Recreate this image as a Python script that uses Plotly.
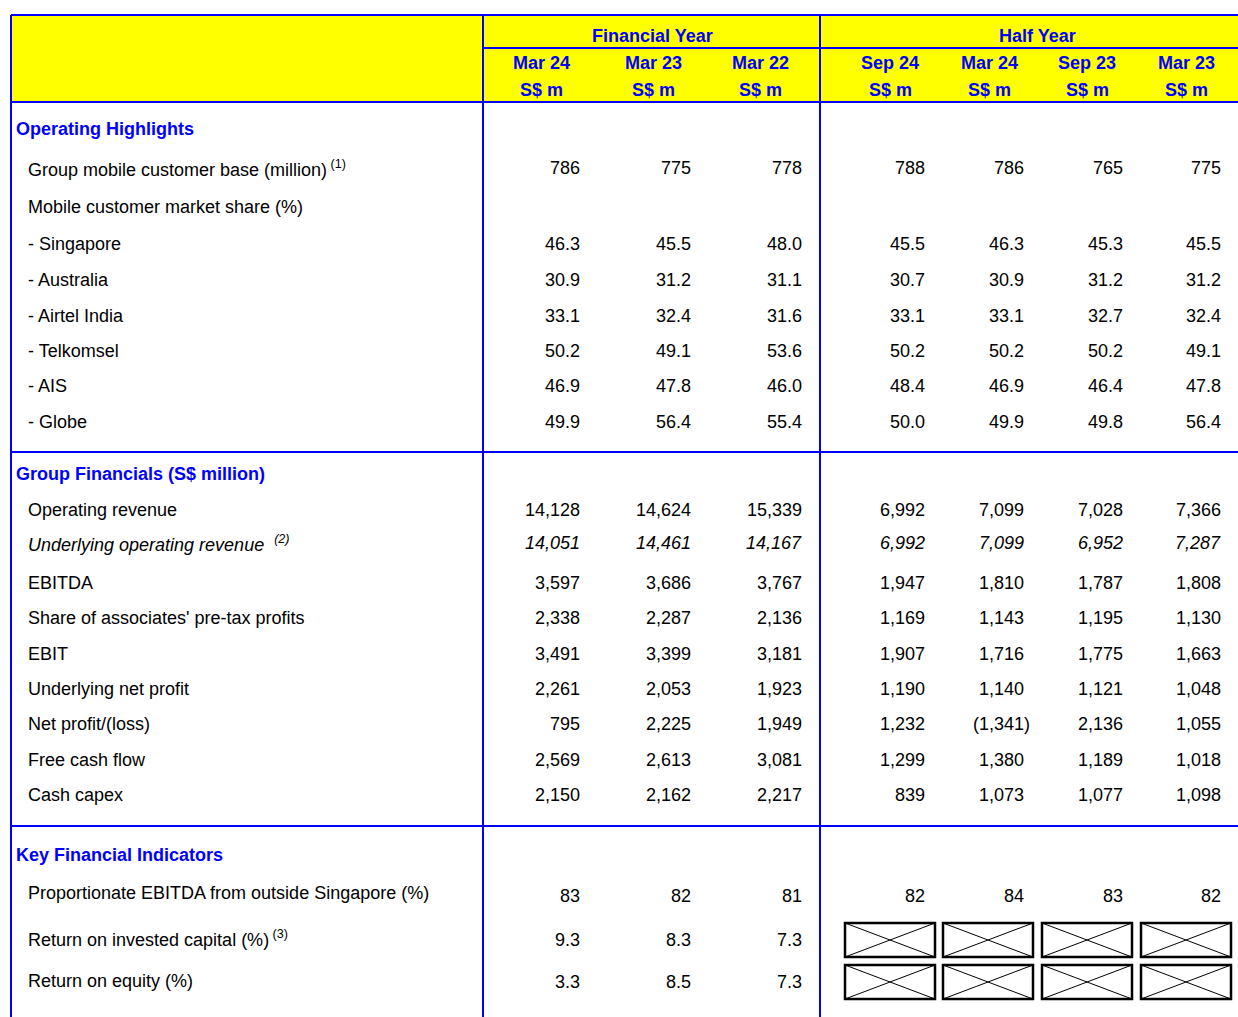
import plotly.graph_objects as go

# ---------------- data ----------------
fy_periods = ["Mar 24", "Mar 23", "Mar 22"]
hy_periods = ["Sep 24", "Mar 24", "Sep 23", "Mar 23"]
unit_label = "S$ m"

customer_base = [786, 775, 778, 788, 786, 765, 775]
share_singapore = [46.3, 45.5, 48.0, 45.5, 46.3, 45.3, 45.5]
share_australia = [30.9, 31.2, 31.1, 30.7, 30.9, 31.2, 31.2]
share_airtel = [33.1, 32.4, 31.6, 33.1, 33.1, 32.7, 32.4]
share_telkomsel = [50.2, 49.1, 53.6, 50.2, 50.2, 50.2, 49.1]
share_ais = [46.9, 47.8, 46.0, 48.4, 46.9, 46.4, 47.8]
share_globe = [49.9, 56.4, 55.4, 50.0, 49.9, 49.8, 56.4]

operating_revenue = [14128, 14624, 15339, 6992, 7099, 7028, 7366]
underlying_revenue = [14051, 14461, 14167, 6992, 7099, 6952, 7287]
ebitda = [3597, 3686, 3767, 1947, 1810, 1787, 1808]
associates_profit = [2338, 2287, 2136, 1169, 1143, 1195, 1130]
ebit = [3491, 3399, 3181, 1907, 1716, 1775, 1663]
underlying_net_profit = [2261, 2053, 1923, 1190, 1140, 1121, 1048]
net_profit = [795, 2225, 1949, 1232, -1341, 2136, 1055]
free_cash_flow = [2569, 2613, 3081, 1299, 1380, 1189, 1018]
cash_capex = [2150, 2162, 2217, 839, 1073, 1077, 1098]

prop_ebitda_outside = [83, 82, 81, 82, 84, 83, 82]
roic = [9.3, 8.3, 7.3, None, None, None, None]
roe = [3.3, 8.5, 7.3, None, None, None, None]

# ---------------- layout constants ----------------
PAGE_W, PAGE_H = 1238, 1017
BLUE = "#0000FF"
YELLOW = "#FFFF00"
FONT = "Liberation Sans, Arial, sans-serif"
FS = 18

X_LEFT, X_V1, X_V2, X_RIGHT = 11, 483, 820, 1245
Y_TOP, Y_HDR_MID, Y_HDR_BOT = 15, 48, 102
Y_SEC2, Y_SEC3 = 452, 826

col_right = [582, 693, 804, 927, 1026, 1125, 1223]
hdr_center = [541, 653, 760, 890, 989, 1087, 1186]
box_x = [(845, 935), (943, 1033), (1042, 1132), (1141, 1231)]

fig = go.Figure()
fig.add_trace(go.Scatter(x=[100], y=[100], mode="markers", marker=dict(opacity=0),
                         hoverinfo="skip", showlegend=False))

shapes = []
annotations = []


def line(x0, y0, x1, y1, color=BLUE, width=2):
    shapes.append(dict(type="line", x0=x0, y0=y0, x1=x1, y1=y1, xref="x", yref="y",
                       line=dict(color=color, width=width)))


def text(x, y, s, anchor="left", color="black", bold=False, size=FS, xshift=0):
    if bold:
        s = "<b>" + s + "</b>"
    annotations.append(dict(x=x, y=y, xref="x", yref="y", text=s, showarrow=False,
                            xanchor=anchor, yanchor="middle", xshift=xshift,
                            font=dict(family=FONT, size=size, color=color)))


# header fill
shapes.append(dict(type="rect", x0=X_LEFT, y0=Y_TOP, x1=X_RIGHT, y1=Y_HDR_BOT,
                   xref="x", yref="y", fillcolor=YELLOW, line=dict(width=0), layer="below"))

# grid lines
line(X_LEFT, Y_TOP, X_RIGHT, Y_TOP)
line(X_V1, Y_HDR_MID, X_RIGHT, Y_HDR_MID)
line(X_LEFT, Y_HDR_BOT, X_RIGHT, Y_HDR_BOT)
line(X_LEFT, Y_SEC2, X_RIGHT, Y_SEC2)
line(X_LEFT, Y_SEC3, X_RIGHT, Y_SEC3)
line(X_LEFT, Y_TOP, X_LEFT, PAGE_H + 5)
line(X_V1, Y_TOP, X_V1, PAGE_H + 5)
line(X_V2, Y_TOP, X_V2, PAGE_H + 5)

# header text
text(652, 36, "Financial Year", anchor="center", color=BLUE, bold=True)
text(1037, 36, "Half Year", anchor="center", color=BLUE, bold=True)
for cx, p in zip(hdr_center, fy_periods + hy_periods):
    text(cx, 63, p, anchor="center", color=BLUE, bold=True)
    text(cx, 90, unit_label, anchor="center", color=BLUE, bold=True)


def fmt_int(v):
    if v < 0:
        return "(" + f"{-v:,}" + ")"
    return f"{v:,}"


def fmt_dec(v):
    return f"{v:.1f}"


def row(y, label, values, fmt, italic=False, label_y=None):
    ly = y if label_y is None else label_y
    lab = "<i>" + label + "</i>" if italic else label
    text(26, ly, lab)
    if values is None:
        return
    for i, v in enumerate(values):
        if v is None:
            x0, x1 = box_x[i - 3]
            y0, y1 = y - 17, y + 17
            shapes.append(dict(type="rect", x0=x0, y0=y0, x1=x1, y1=y1, xref="x", yref="y",
                               line=dict(color="black", width=2.5)))
            line(x0, y0, x1, y1, color="black", width=1)
            line(x0, y1, x1, y0, color="black", width=1)
            continue
        s = fmt(v)
        shift = 6 if v < 0 else 0
        if italic:
            s = "<i>" + s + "</i>"
        text(col_right[i], y, s, anchor="right", xshift=shift)


# Section 1
text(14, 129, "Operating Highlights", color=BLUE, bold=True)
row(168, "Group mobile customer base (million)<sup> (1)</sup>", customer_base, fmt_int)
row(207, "Mobile customer market share (%)", None, fmt_dec)
row(244, "- Singapore", share_singapore, fmt_dec)
row(280, "- Australia", share_australia, fmt_dec)
row(316, "- Airtel India", share_airtel, fmt_dec)
row(351, "- Telkomsel", share_telkomsel, fmt_dec)
row(386, "- AIS", share_ais, fmt_dec)
row(422, "- Globe", share_globe, fmt_dec)

# Section 2
text(14, 474, "Group Financials (S$ million)", color=BLUE, bold=True)
row(510, "Operating revenue", operating_revenue, fmt_int)
row(543, "Underlying operating revenue  <sup>(2)</sup>", underlying_revenue, fmt_int, italic=True)
row(583, "EBITDA", ebitda, fmt_int)
row(618, "Share of associates' pre-tax profits", associates_profit, fmt_int)
row(654, "EBIT", ebit, fmt_int)
row(689, "Underlying net profit", underlying_net_profit, fmt_int)
row(724, "Net profit/(loss)", net_profit, fmt_int)
row(760, "Free cash flow", free_cash_flow, fmt_int)
row(795, "Cash capex", cash_capex, fmt_int)

# Section 3
text(14, 855, "Key Financial Indicators", color=BLUE, bold=True)
row(896, "Proportionate EBITDA from outside Singapore (%)", prop_ebitda_outside, fmt_int, label_y=893)
row(940, "Return on invested capital (%)<sup> (3)</sup>", roic, fmt_dec, label_y=938)
row(982, "Return on equity (%)", roe, fmt_dec, label_y=981)

fig.update_layout(
    width=PAGE_W, height=PAGE_H,
    margin=dict(l=0, r=0, t=0, b=0),
    paper_bgcolor="white", plot_bgcolor="white",
    xaxis=dict(range=[0, PAGE_W], visible=False, fixedrange=True),
    yaxis=dict(range=[PAGE_H, 0], visible=False, fixedrange=True),
    shapes=shapes, annotations=annotations,
    showlegend=False,
)

# remove the default page margin so data units equal page pixels
fig.write_html("out.html",
               config={"displayModeBar": False, "staticPlot": True},
               post_script="document.body.style.margin='0px';document.body.style.overflow='hidden';")
